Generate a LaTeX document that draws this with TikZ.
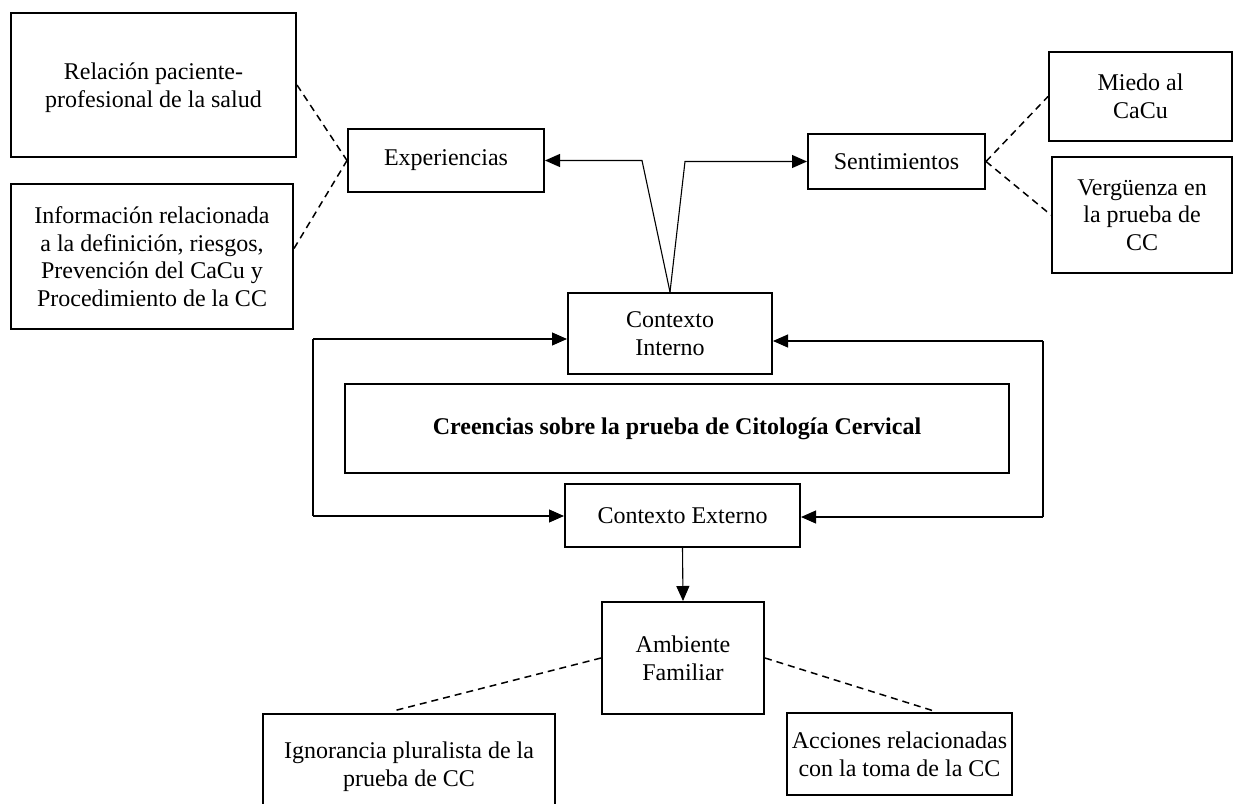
\documentclass[tikz,border=0pt]{standalone}
\usepackage{fontspec}
\setmainfont{Liberation Serif}
\usetikzlibrary{arrows.meta,calc}
\begin{document}
\begin{tikzpicture}[x=1pt,y=-1pt,
  box/.style={draw, line width=2pt, inner sep=0pt, align=center, font=\fontsize{24}{27.6}\selectfont},
  conn/.style={line width=1.1pt},
  arr/.style={conn, -{Triangle[length=15pt,width=13pt]}},
  dashline/.style={line width=1.5pt, dash pattern=on 7pt off 5pt}]
\useasboundingbox (0,0) rectangle (1238,803);
\clip (0,0) rectangle (1238,803);
\fill[white] (0,0) rectangle (1238,803);

% nodes
\node[box, minimum width=285, minimum height=144, text depth=-4pt] (rel) at (153.5,85) {Relación paciente-\\profesional de la salud};
\node[box, minimum width=282, minimum height=145] (info) at (152,256.5) {Información relacionada\\a la definición, riesgos,\\Prevención del CaCu y\\Procedimiento de la CC};
\node[box, minimum width=196, minimum height=63] (exp) at (446,160.5) {Experiencias};
\node[box, minimum width=177, minimum height=55] (sent) at (896.5,161.5) {Sentimientos};
\node[box, minimum width=183, minimum height=89] (miedo) at (1140.5,96.5) {Miedo al\\CaCu};
\node[box, minimum width=180, minimum height=116] (verg) at (1142,215) {Vergüenza en\\la prueba de\\CC};
\node[box, minimum width=204, minimum height=81] (ci) at (670,333.5) {Contexto\\Interno};
\node[box, minimum width=664, minimum height=89, font=\fontsize{24}{27.6}\selectfont\bfseries] (cre) at (677,428.5) {Creencias sobre la prueba de Citología Cervical};
\node[box, minimum width=235, minimum height=63] (ce) at (682.5,515.5) {Contexto Externo};
\node[box, minimum width=162, minimum height=112] (amb) at (683,658) {Ambiente\\Familiar};
\node[box, minimum width=292, minimum height=106] (ign) at (409,767) {Ignorancia pluralista de la\\prueba de CC};
\node[box, minimum width=225, minimum height=82] (acc) at (899.5,754) {Acciones relacionadas\\con la toma de la CC};

% helper coordinates
\coordinate (k1) at (642,160.5);
\coordinate (k2) at (685,161.5);
\coordinate (L1) at (313,339);
\coordinate (L2) at (313,516);
\coordinate (R1) at (1043,341);
\coordinate (R2) at (1043,517);
\coordinate (d1) at (393,711);
\coordinate (d2) at (934,711);

% dashed links
\draw[dashline] (rel.east) -- (exp.west);
\draw[dashline] ([yshift=8pt]info.east) -- (exp.west);
\draw[dashline] (sent.east) -- (miedo.west);
\draw[dashline] (sent.east) -- (verg.west);
\draw[dashline] (amb.west) -- (d1);
\draw[dashline] (amb.east) -- (d2);

% arrows from contexto interno
\draw[arr] (ci.north) -- (k1) -- (exp.east);
\draw[arr] (ci.north) -- (k2) -- (sent.west);

% loops
\draw[conn] (L1) -- (L2);
\draw[arr] (L1) -- (L1 -| ci.west);
\draw[arr] (L2) -- (L2 -| ce.west);
\draw[conn] (R1) -- (R2);
\draw[arr] (R1) -- (R1 -| ci.east);
\draw[arr] (R2) -- (R2 -| ce.east);

% down arrow
\draw[arr] (ce.south) -- (amb.north);
\end{tikzpicture}
\end{document}
